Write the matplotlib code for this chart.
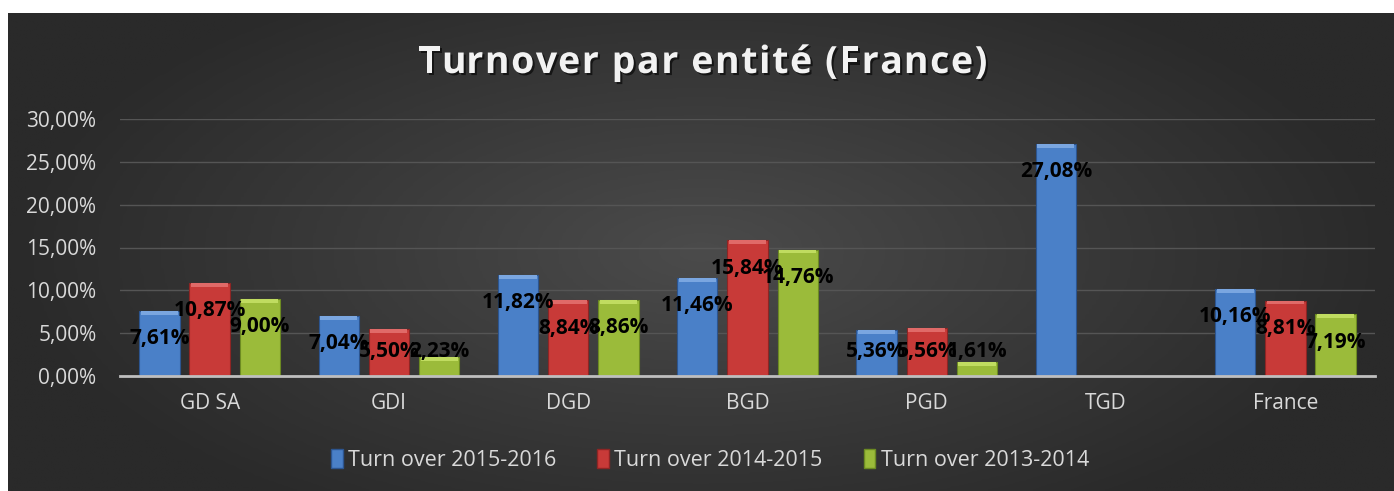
import numpy as np
import matplotlib
matplotlib.use("Agg")
import matplotlib.pyplot as plt
import matplotlib.patheffects as pe
from matplotlib.patches import Patch

# Data
categories = ["GD SA", "GDI", "DGD", "BGD", "PGD", "TGD", "France"]
turnover_2015_2016 = [7.61, 7.04, 11.82, 11.46, 5.36, 27.08, 10.16]
turnover_2014_2015 = [10.87, 5.50, 8.84, 15.84, 5.56, np.nan, 8.81]
turnover_2013_2014 = [9.00, 2.23, 8.86, 14.76, 1.61, np.nan, 7.19]
series_names = ["Turn over 2015-2016", "Turn over 2014-2015", "Turn over 2013-2014"]
y_ticks = [0, 5, 10, 15, 20, 25, 30]
title = "Turnover par entité (France)"

colors = ["#4a80c8", "#c83a38", "#9bbb3a"]
edge_colors = ["#2c5590", "#8e2524", "#6c8a22"]
cap_colors = ["#7aa6e0", "#e06a68", "#c0dc60"]

plt.rcParams['font.family'] = ['Open Sans', 'DejaVu Sans']

W, H = 1394, 491
fig = plt.figure(figsize=(W / 100, H / 100), dpi=100)
fig.patch.set_facecolor("white")

# Dark radial gradient background (thin white margin top/left like the reference)
bg = fig.add_axes([8 / W, 0, 1 - 8 / W, 1 - 13 / H])
bg.axis("off")
gx, gy = np.meshgrid(np.linspace(-1, 1, 400), np.linspace(-1, 1, 200))
r = np.sqrt(gx ** 2 + (gy / 1.3) ** 2)
bg.imshow(np.clip(r, 0, 1), cmap=matplotlib.colors.LinearSegmentedColormap.from_list(
    "bg", ["#4b4b4b", "#3a3a3a", "#2a2a2a"]), aspect="auto", extent=[0, 1, 0, 1], vmin=0, vmax=1)

ax = fig.add_axes([120 / W, 1 - 376 / H, (1375 - 120) / W, (376 - 119) / H])
ax.set_facecolor("none")

x = np.arange(len(categories))
width = 0.225
step = 0.28
all_series = [turnover_2015_2016, turnover_2014_2015, turnover_2013_2014]

for i, vals in enumerate(all_series):
    vals = np.array(vals, dtype=float)
    pos = x + (i - 1) * step
    ax.bar(pos, vals, width, color=colors[i], edgecolor=edge_colors[i], linewidth=0.8, zorder=3)
    # light bevel cap on top of each bar
    cap = 0.45
    ax.bar(pos, np.full_like(vals, cap), width * 0.92, bottom=vals - cap, color=cap_colors[i],
           linewidth=0, zorder=4)
    for p, v in zip(pos, vals):
        if np.isnan(v):
            continue
        ax.text(p, max(v - 3.25, 2.9), f"{v:.2f}%".replace(".", ","), ha="center", va="center",
                fontsize=15, fontweight="bold", color="black", zorder=5)

ax.set_xlim(-0.5, len(categories) - 0.5)
ax.set_ylim(0, 30)
ax.set_yticks(y_ticks)
ax.set_yticklabels([f"{t:.2f}%".replace(".", ",") for t in y_ticks])
ax.set_xticks(x)
ax.set_xticklabels(categories)
ax.tick_params(axis="both", length=0, colors="#d9d9d9", labelsize=15)
ax.tick_params(axis="y", pad=17)
ax.tick_params(axis="x", pad=12)
ax.grid(axis="y", color="#555555", linewidth=1, zorder=0)
for s in ["top", "right", "left"]:
    ax.spines[s].set_visible(False)
ax.spines["bottom"].set_color("#bfbfbf")
ax.spines["bottom"].set_linewidth(2)
ax.spines["bottom"].set_zorder(6)

# Title with letter spacing, drawn character by character
renderer = fig.canvas.get_renderer()
tprops = dict(fontsize=27, fontweight="bold", color="#f2f2f2", va="center", ha="left")
def text_w(s):
    t = fig.text(0, 0, s, **tprops)
    w = t.get_window_extent(renderer).width
    t.remove()
    return w
spacing = 1.6
bar_w = text_w("|")
offsets = [text_w(title[:k] + "|") - bar_w if k else 0 for k in range(len(title))]
total = offsets[-1] + text_w(title[-1]) + spacing * (len(title) - 1)
x0 = 703 - total / 2
for k, ch in enumerate(title):
    if ch == " ":
        continue
    fig.text((x0 + offsets[k] + spacing * k) / W, 1 - 63 / H, ch,
             path_effects=[pe.withSimplePatchShadow(offset=(1.5, -1.5), shadow_rgbFace="black", alpha=0.6)],
             **tprops)

handles = [Patch(facecolor=colors[i], edgecolor=edge_colors[i]) for i in range(3)]
fig.legend(handles, series_names, loc="center", bbox_to_anchor=(710 / W, 1 - 460 / H),
           ncol=3, frameon=False, fontsize=15.5, labelcolor="#d9d9d9",
           handlelength=0.55, handleheight=1.0, handletextpad=0.25, columnspacing=1.9)

fig.savefig("out.png", dpi=100)
